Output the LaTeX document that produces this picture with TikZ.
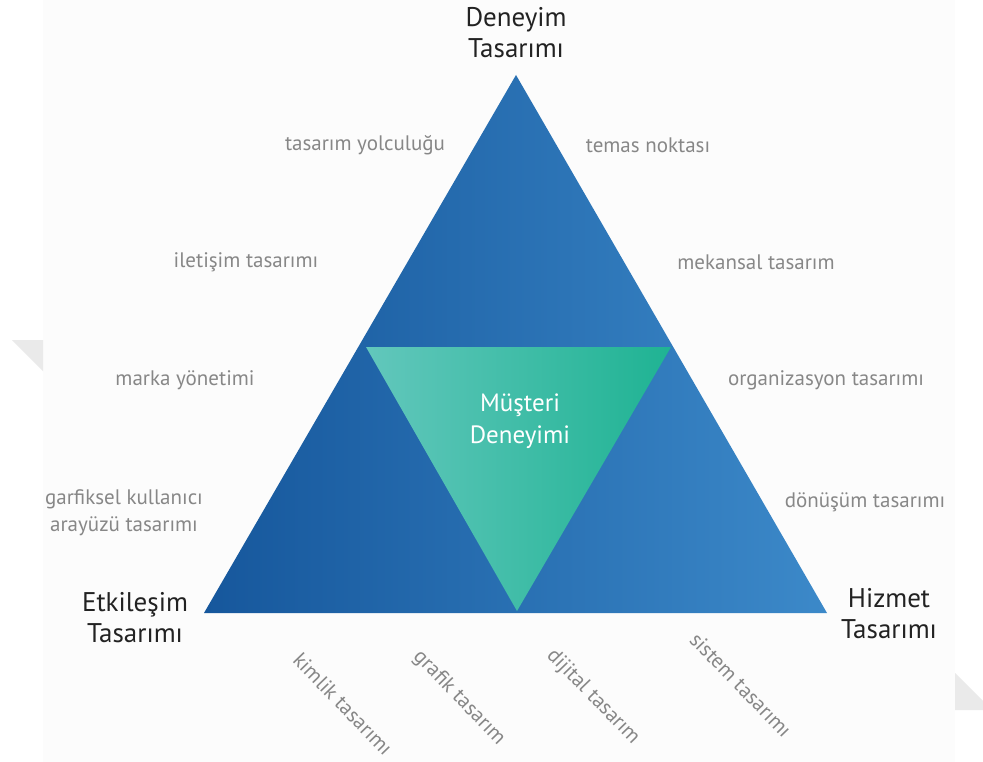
\documentclass[tikz,border=0pt]{standalone}
\usepackage{fontspec}
\setmainfont{PT Sans}
\definecolor{pagegray}{HTML}{FCFCFC}
\definecolor{cornergray}{HTML}{EAEAEA}
\definecolor{blueL}{HTML}{16579C}
\definecolor{blueR}{HTML}{3C89C9}
\definecolor{tealL}{HTML}{62C7BC}
\definecolor{tealR}{HTML}{1FB393}
\definecolor{darktext}{HTML}{222222}
\definecolor{softtext}{HTML}{878787}
\begin{document}
\begin{tikzpicture}[x=1pt,y=-1pt,
  pole/.style={font=\fontsize{27}{31}\selectfont, text=darktext, align=center, inner sep=0pt},
  field/.style={font=\fontsize{21}{27}\selectfont, text=softtext, align=center, inner sep=0pt},
  slanted/.style={field, rotate=-46}]
\useasboundingbox (0,0) rectangle (983,762);
\fill[white] (0,0) rectangle (983,762);
\fill[pagegray] (43,0) rectangle (955,762);
% faint page-corner marks
\fill[cornergray] (12,340) -- (43,340) -- (43,371) -- cycle;
\fill[cornergray] (955,673) -- (955,710) -- (992,710) -- cycle;
% outer triangle
\coordinate (apex) at (516,75);
\coordinate (bl) at (204,613);
\coordinate (br) at (827,613);
\shade[left color=blueL, right color=blueR] (apex) -- (br) -- (bl) -- cycle;
% inner inverted triangle
\coordinate (il) at (366,347);
\coordinate (ir) at (671,347);
\coordinate (ib) at (517,611);
\shade[left color=tealL, right color=tealR] (il) -- (ir) -- (ib) -- cycle;
\node[text=white, font=\fontsize{25}{32}\selectfont, align=center, inner sep=0pt] (core) at (520,421) {Müşteri\\Deneyimi};
% corner titles
\node[pole] (top) at (516,33) {Deneyim\\Tasarımı};
\node[pole] (left) at (135,618) {Etkileşim\\Tasarımı};
\node[pole] (right) at (889,614) {Hizmet\\Tasarımı};
% side fields
\node[field] (f1) at (365,145) {tasarım yolculuğu};
\node[field] (f2) at (648,145) {temas noktası};
\node[field] (f3) at (246,262) {iletişim tasarımı};
\node[field] (f4) at (756,262) {mekansal tasarım};
\node[field] (f5) at (185,380) {marka yönetimi};
\node[field] (f6) at (826,380) {organizasyon tasarımı};
\node[field] (f7) at (124,513) {garfiksel kullanıcı\\arayüzü tasarımı};
\node[field] (f8) at (865,502) {dönüşüm tasarımı};
% base fields
\node[slanted] (b1) at (343,704) {kimlik tasarımı};
\node[slanted] (b2) at (459,698) {grafik tasarım};
\node[slanted] (b3) at (593,697) {dijital tasarım};
\node[slanted] (b4) at (741,685) {sistem tasarımı};
\end{tikzpicture}
\end{document}
